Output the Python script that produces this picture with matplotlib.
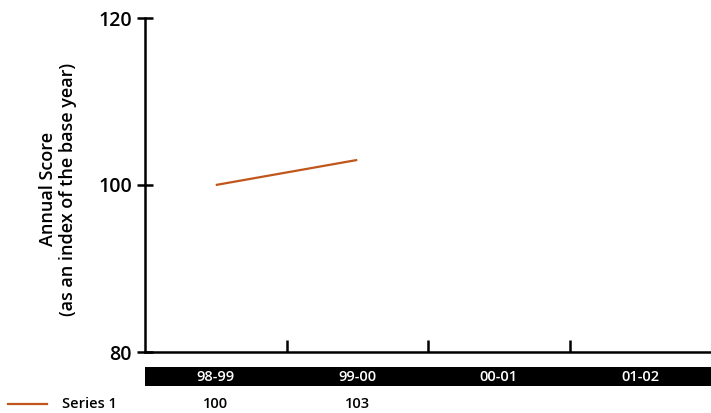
import matplotlib
matplotlib.use("Agg")
import matplotlib.pyplot as plt
from matplotlib.patches import Rectangle
from matplotlib.lines import Line2D

categories = ["98-99", "99-00", "00-01", "01-02"]
series_name = "Series 1"
series_values = [100, 103]
y_ticks = [80, 100, 120]

plt.rcParams['font.family'] = ['Open Sans', 'DejaVu Sans']

W, H = 711, 413
fig = plt.figure(figsize=(W / 100, H / 100), dpi=100)
ax = fig.add_axes([145 / W, 1 - 352 / H, (711 - 145) / W, (352 - 18) / H])

color = "#C0561B"
x = list(range(len(series_values)))
ax.plot(x, series_values, color=color, lw=1.6, solid_capstyle="butt")

ax.set_xlim(-0.5, len(categories) - 0.5)
ax.set_ylim(80, 120)
ax.set_yticks(y_ticks)
ax.set_yticklabels([str(v) for v in y_ticks], fontsize=14, fontweight="semibold")
ax.set_xticks([i + 0.5 for i in range(len(categories) - 1)])
ax.set_xticklabels([])
ax.tick_params(axis="y", direction="inout", length=11, width=1.8, pad=4)
ax.tick_params(axis="x", direction="in", length=9, width=1.8)
for s in ["top", "right"]:
    ax.spines[s].set_visible(False)
for s in ["left", "bottom"]:
    ax.spines[s].set_linewidth(1.8)

fig.text(58 / W, 1 - 189 / H, "Annual Score\n(as an index of the base year)",
         rotation=90, ha="center", va="center", multialignment="center",
         fontsize=13, fontweight="semibold", linespacing=1.2)

# black category band
band_top, band_bot = 367, 386
fig.patches.append(Rectangle((145 / W, 1 - band_bot / H), (711 - 145) / W,
                             (band_bot - band_top) / H, transform=fig.transFigure,
                             facecolor="black", edgecolor="none"))
for i, c in enumerate(categories):
    xf = ax.transData.transform((i, 0))[0] / W
    fig.text(xf, 1 - 377 / H, c, color="white", ha="center", va="center",
             fontsize=10.5, fontweight="semibold")

# data table row
row_y = 1 - 404 / H
fig.lines.append(Line2D([8 / W, 47 / W], [row_y, row_y], color=color, lw=1.6,
                        transform=fig.transFigure))
fig.text(62 / W, row_y, series_name, ha="left", va="center", fontsize=10.5,
         fontweight="semibold")
for i, v in enumerate(series_values):
    xf = ax.transData.transform((i, 0))[0] / W
    fig.text(xf, row_y, str(v), ha="center", va="center", fontsize=10.5,
             fontweight="semibold")

fig.savefig("out.png", dpi=100)
